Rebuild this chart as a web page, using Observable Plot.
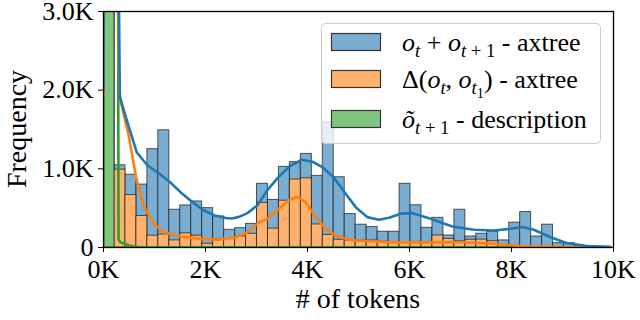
<!DOCTYPE html>
<html><head><meta charset="utf-8">
<script src="https://cdn.jsdelivr.net/npm/d3@7"></script>
<script src="https://cdn.jsdelivr.net/npm/@observablehq/plot@0.6"></script>
<style>
html,body{margin:0;padding:0;background:#fff;}
#chart{width:640px;height:320px;}
</style></head><body><div id="chart"></div>
<script>
// ---- data ----
const binWidth = 215;
const blueCounts = [4000,1045,925,800,1250,1490,480,535,585,500,395,225,246,300,810,605,1025,1085,1190,910,1590,893,425,290,260,200,200,810,537,250,377,153,480,140,175,200,90,315,450,140,290,55,55,15];
const orangeCounts = [3000,990,667,400,150,165,90,180,150,47,107,107,140,175,567,240,595,864,880,293,160,98,90,90,90,76,70,60,70,70,153,110,80,98,100,80,30,10,5];
const greenCounts = [9000];

const blueKdeX = [0,60,150,240,290,320,436,652,860,1090,1307,1515,1730,1945,2168,2397,2520,2660,2822,3015,3210,3430,3645,3880,4100,4290,4508,4723,4945,5173,5400,5600,5826,6055,6414,6839,7262,7654,7982,8212,8439,8766,9093,9485,9938];
const blueKdeY = [2000,40000,80000,20000,4000,1920,1660,1210,1045,940,830,700,586,480,410,375,368,390,437,535,726,895,1030,1115,1090,1023,895,705,513,386,352,378,430,437,365,267,225,216,238,260,225,130,55,20,10];
const orangeKdeX = [0,60,150,240,300,325,440,480,652,796,992,1188,1515,1907,2234,2560,2822,3050,3214,3430,3637,3802,3964,4160,4390,4617,4944,5597,6055,7002,7654,8177,8800,9470];
const orangeKdeY = [1930,15000,30000,8000,2300,1890,1570,1470,853,513,300,195,140,110,100,124,195,320,365,490,600,645,577,386,216,131,90,68,65,70,47,17,5,1];
const greenKdeX = [0,50,150,250,280,295,325,500,640,800,1200,3000,9800];
const greenKdeY = [0,60000,100000,30000,5000,110,68,25,10,4,1,0,0];

const xTicks = [0,2000,4000,6000,8000,10000];
const xTickLabels = ["0K","2K","4K","6K","8K","10K"];
const yTicks = [0,1000,2000,3000];
const yTickLabels = ["0","1.0K","2.0K","3.0K"];
const xLabel = "# of tokens";
const yLabel = "Frequency";

// ---- helpers ----
const bars = counts => counts.map((c,i)=>({x1:i*binWidth, x2:(i+1)*binWidth, y:c})).filter(d=>d.y>0);
const kde = (xs, ys) => xs.map((x,i)=>({x, y:ys[i]}));

const FONT = "'Liberation Serif','Times New Roman',serif";
const fills = {blue:"#79add2", orange:"#ffb26e", green:"#80c680"};
const lines = {blue:"#1f77b4", orange:"#ff7f0e", green:"#2ca02c"};
const barOpts = fill => ({x1:"x1", x2:"x2", y1:0, y2:"y", fill, stroke:"#222", strokeOpacity:0.75, strokeWidth:1, clip:true});

const plot = Plot.plot({
  width: 640, height: 320,
  marginLeft: 103, marginRight: 27, marginTop: 11, marginBottom: 73,
  style: {fontFamily: FONT, fontSize: "26px", color: "black", background: "white", overflow: "visible"},
  x: {domain:[0,10000], ticks: xTicks, tickFormat: d => xTickLabels[xTicks.indexOf(d)], tickSize: 5, tickPadding: 7, label: null},
  y: {domain:[0,3000], ticks: yTicks, tickFormat: d => yTickLabels[yTicks.indexOf(d)], tickSize: 5, tickPadding: 5, label: null},
  marks: [
    Plot.rect(bars(blueCounts), barOpts(fills.blue)),
    Plot.rect(bars(orangeCounts), barOpts(fills.orange)),
    Plot.rect(bars(greenCounts), barOpts(fills.green)),
    Plot.line(kde(greenKdeX, greenKdeY), {x:"x", y:"y", stroke: lines.green, strokeWidth: 2.6, clip: true}),
    Plot.line(kde(orangeKdeX, orangeKdeY), {x:"x", y:"y", stroke: lines.orange, strokeWidth: 2.6, clip: true}),
    Plot.line(kde(blueKdeX, blueKdeY), {x:"x", y:"y", stroke: lines.blue, strokeWidth: 2.6, clip: true}),
    Plot.frame({stroke: "black", strokeWidth: 1.3})
  ]
});
document.getElementById("chart").appendChild(plot);

const svg = d3.select(plot);
// ---- axis titles ----
svg.append("text").attr("x", 358).attr("y", 308).attr("text-anchor", "middle")
  .attr("font-size", 28).style("font-family", FONT).attr("fill", "black").text(xLabel);
svg.append("text").attr("transform", "translate(26,129) rotate(-90)").attr("text-anchor", "middle")
  .attr("font-size", 28).style("font-family", FONT).attr("fill", "black").text(yLabel);

// ---- legend (inside plot, upper right) ----
const lg = svg.append("g");
lg.append("rect").attr("x", 321.5).attr("y", 23.5).attr("width", 279).attr("height", 120)
  .attr("rx", 4).attr("fill", "white").attr("fill-opacity", 0.8).attr("stroke", "#cccccc");
const rows = [
  {fill: fills.blue, y: 51, parts: [
    {t:"o", i:1},{t:"t", i:1, s:1},{t:" + "},{t:"o", i:1},{t:"t", i:1, s:1},{t:" + 1", s:1},{t:" - axtree"}]},
  {fill: fills.orange, y: 88, parts: [
    {t:"Δ("},{t:"o", i:1},{t:"t", i:1, s:1},{t:", "},{t:"o", i:1},{t:"t", i:1, s:1},{t:"1", s:2},{t:")"},{t:" - axtree"}]},
  {fill: fills.green, y: 128, parts: [
    {t:"õ", i:1},{t:"t", i:1, s:1},{t:" + 1", s:1},{t:" - description"}]}
];
const base = 26, sizes = [1, 0.72, 0.55], shifts = [0, 6, 10];
rows.forEach(r => {
  lg.append("rect").attr("x", 331.5).attr("y", r.y - 17.5).attr("width", 49).attr("height", 17)
    .attr("fill", r.fill).attr("stroke", "#333").attr("stroke-width", 1.2);
  const t = lg.append("text").attr("x", 402).attr("y", r.y).attr("text-anchor", "start").attr("fill", "black")
    .style("white-space", "pre").style("font-family", FONT);
  let cur = 0;
  r.parts.forEach(p => {
    const s = p.s || 0;
    t.append("tspan").attr("dy", shifts[s] - cur)
      .attr("font-size", base * sizes[s])
      .attr("font-style", p.i ? "italic" : "normal")
      .text(p.t);
    cur = shifts[s];
  });
});
</script></body></html>
